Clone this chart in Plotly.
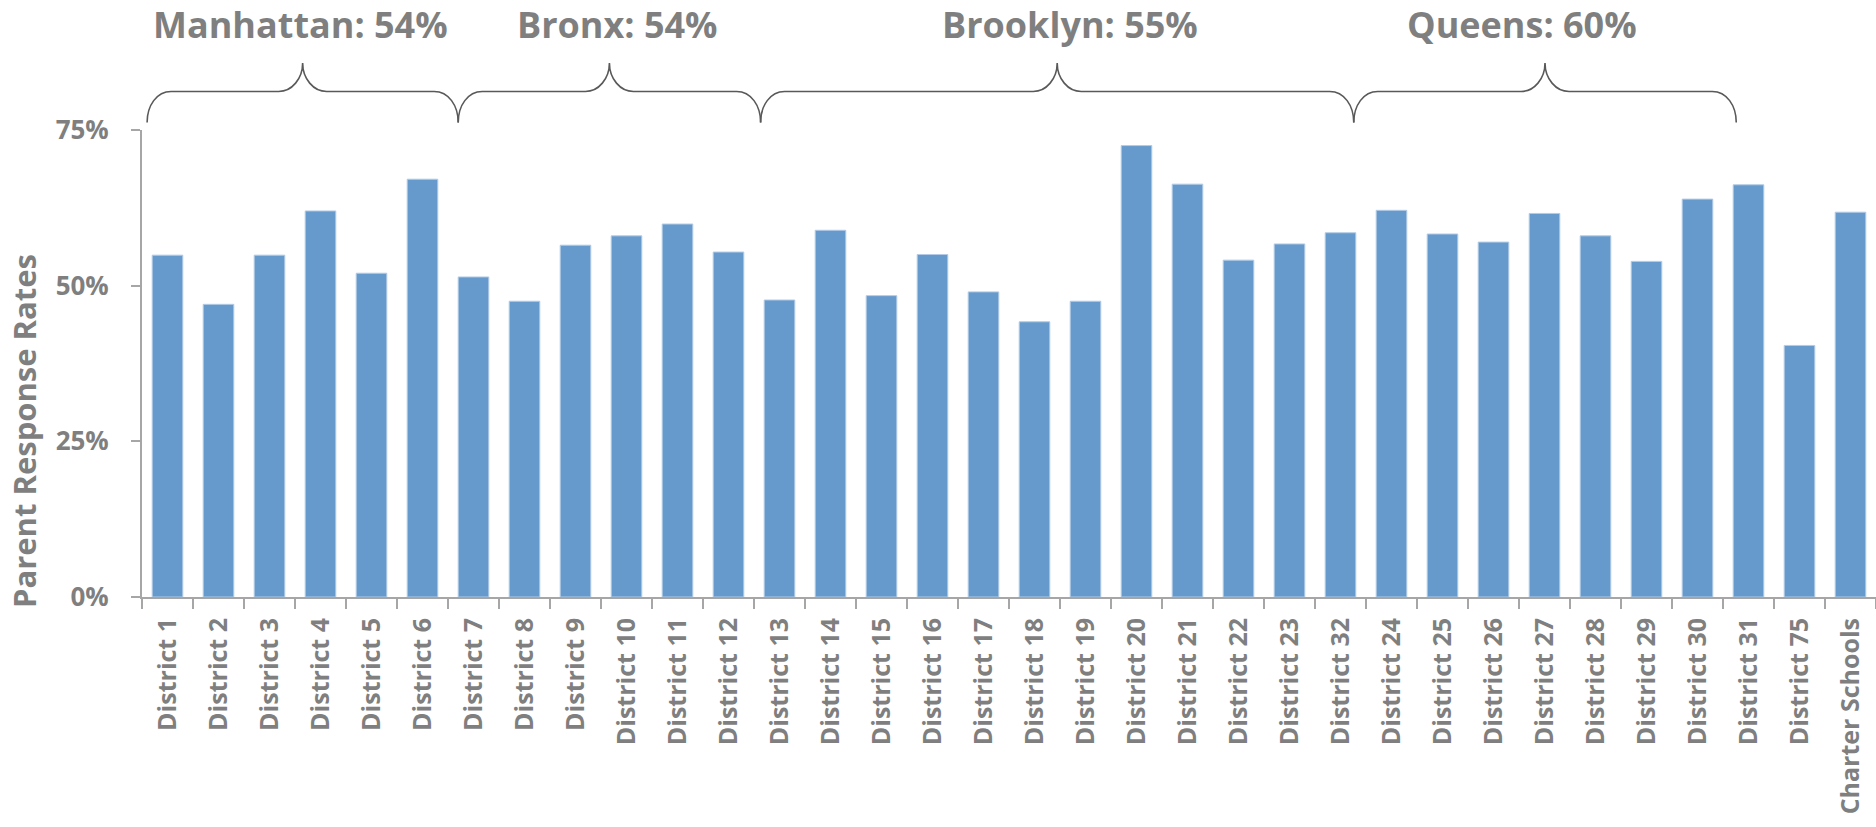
import plotly.graph_objects as go

# ---- data ----
categories = ["District 1", "District 2", "District 3", "District 4", "District 5", "District 6",
              "District 7", "District 8", "District 9", "District 10", "District 11", "District 12",
              "District 13", "District 14", "District 15", "District 16", "District 17", "District 18",
              "District 19", "District 20", "District 21", "District 22", "District 23", "District 32",
              "District 24", "District 25", "District 26", "District 27", "District 28", "District 29",
              "District 30", "District 31", "District 75", "Charter Schools"]
response_rates = [54.9, 47.0, 54.9, 62.0, 52.0, 67.1,
                  51.4, 47.5, 56.5, 58.0, 59.9, 55.4,
                  47.7, 58.9, 48.4, 55.0, 49.0, 44.2,
                  47.5, 72.5, 66.3, 54.1, 56.7, 58.5,
                  62.1, 58.3, 57.0, 61.6, 58.0, 53.9,
                  63.9, 66.2, 40.4, 61.8]
y_tick_values = [0, 25, 50, 75]
y_tick_labels = ["0%", "25%", "50%", "75%"]

borough_labels = ["Manhattan: 54%", "Bronx: 54%", "Brooklyn: 55%", "Queens: 60%"]
# brace span and label centre in category units (category index, centre = integer)
brace_start = [-0.40, 5.70, 11.63, 23.26]
brace_end = [5.70, 11.63, 23.26, 30.76]
label_center = [2.60, 8.82, 17.70, 26.56]

# ---- layout geometry ----
W, H = 1876, 827
ML, MR, MT, MB = 142, 0, 130, 230
plot_w = W - ML - MR
plot_h = H - MT - MB
GRAY = "#7F7F7F"
AXIS = "#A6A6A6"
BRACE = "#595959"
FONT = "Open Sans"

n = len(categories)


def cat_to_paper(c):
    return (c + 0.5) / n


def px_to_paper_y(py):
    return (H - MB - py) / plot_h


fig = go.Figure()
fig.add_trace(go.Bar(
    x=categories, y=response_rates,
    marker=dict(color="#6699CC", line=dict(color="#B3CCE6", width=1)),
    hoverinfo="skip",
))

shapes = []
annotations = []
y_end = px_to_paper_y(122.5)
y_mid = px_to_paper_y(91.5)
y_peak = px_to_paper_y(63)
dx_end = 24 / plot_w
dx_pk = 24 / plot_w
for lab, s, e, c in zip(borough_labels, brace_start, brace_end, label_center):
    xa = cat_to_paper(s)
    xb = cat_to_paper(e)
    xm = (xa + xb) / 2
    path = (
        f"M {xa},{y_end} "
        f"C {xa},{y_end + (y_mid - y_end) * 0.55} {xa + dx_end * 0.4},{y_mid} {xa + dx_end},{y_mid} "
        f"L {xm - dx_pk},{y_mid} "
        f"C {xm - dx_pk * 0.45},{y_mid} {xm},{y_mid + (y_peak - y_mid) * 0.45} {xm},{y_peak} "
        f"C {xm},{y_mid + (y_peak - y_mid) * 0.45} {xm + dx_pk * 0.45},{y_mid} {xm + dx_pk},{y_mid} "
        f"L {xb - dx_end},{y_mid} "
        f"C {xb - dx_end * 0.4},{y_mid} {xb},{y_end + (y_mid - y_end) * 0.55} {xb},{y_end}"
    )
    shapes.append(dict(type="path", path=path, xref="paper", yref="paper",
                       line=dict(color=BRACE, width=1.6)))
    annotations.append(dict(text=lab, x=cat_to_paper(c), y=px_to_paper_y(24), xref="paper", yref="paper",
                            xanchor="center", yanchor="middle", showarrow=False,
                            font=dict(family=FONT, size=36, color=GRAY, weight="bold")))

annotations.append(dict(text="Parent Response Rates", textangle=-90,
                        x=(24 - ML) / plot_w, y=px_to_paper_y(431), xref="paper", yref="paper",
                        xanchor="center", yanchor="middle", showarrow=False,
                        font=dict(family=FONT, size=31, color=GRAY, weight="bold")))

fig.update_layout(
    width=W, height=H,
    margin=dict(l=ML, r=MR, t=MT, b=MB, pad=0),
    plot_bgcolor="white", paper_bgcolor="white",
    bargap=0.40,
    showlegend=False,
    shapes=shapes,
    annotations=annotations,
    xaxis=dict(
        type="category", showline=True, linecolor=AXIS, linewidth=2,
        ticks="outside", tickson="boundaries", ticklen=10, tickcolor=AXIS, tickwidth=2,
        tickangle=-90, ticklabelstandoff=9,
        tickfont=dict(family=FONT, size=25, color=GRAY, weight="bold"),
        showgrid=False, zeroline=False,
    ),
    yaxis=dict(
        range=[0, 75], tickvals=y_tick_values, ticktext=y_tick_labels,
        showline=True, linecolor=AXIS, linewidth=2,
        ticks="outside", ticklen=9, tickcolor=AXIS, tickwidth=2,
        ticklabelstandoff=17,
        tickfont=dict(family=FONT, size=26, color=GRAY, weight="bold"),
        showgrid=False, zeroline=False,
    ),
)

fig.write_html("out.html", config={"displayModeBar": False},
               post_script="document.body.style.margin='0';document.body.style.overflow='hidden';")
